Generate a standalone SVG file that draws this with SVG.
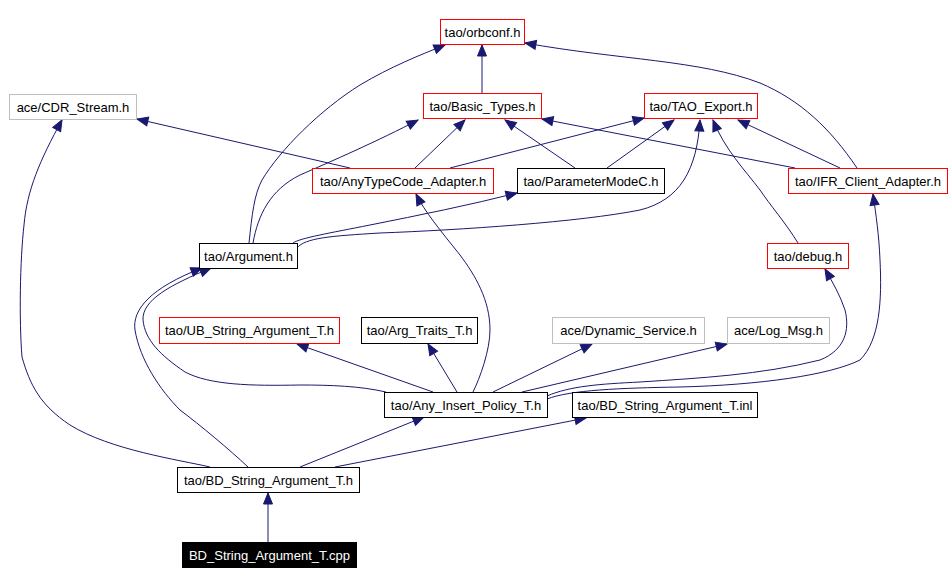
<svg xmlns="http://www.w3.org/2000/svg" width="952" height="584" viewBox="0 0 952 584">
<style>
.n rect{fill:#fff;stroke:#000;stroke-width:1}
.n.r rect{stroke:#ff0000}
.n.g rect{stroke:#bfbfbf}
.n.k rect{fill:#000}
.n text{font-family:"Liberation Sans",Arial,sans-serif;font-size:13px;text-anchor:middle;fill:#000}
.n.k text{fill:#fff}
#edges path{fill:none;stroke:#191970;stroke-width:1;marker-end:url(#ah)}
</style>
<defs>
<marker id="ah" markerUnits="userSpaceOnUse" markerWidth="13" markerHeight="11" refX="11" refY="4.5" orient="auto" overflow="visible"><path d="M0,0 L11,4.5 L0,9 z" fill="#191970" stroke="#191970" stroke-width="1"/></marker>
</defs>
<rect width="952" height="584" fill="#fff"/>
<g id="edges">
<path d="M482,93 L482,45"/>
<path d="M249,243 C252,215 254,195 262,180 C280,150 320,110 360,85 C390,67 420,55 445,45"/>
<path d="M253,243 C258,215 270,190 300,175 C330,162 380,140 418,120"/>
<path d="M293,243 C300,238 330,233 370,225 C420,215 470,205 517,193"/>
<path d="M297,248 C305,238 330,236 380,233 C460,230 580,222 640,210 C680,200 697,170 700,120"/>
<path d="M350,168 L137,119"/>
<path d="M415,168 L465,120"/>
<path d="M450,168 L644,118"/>
<path d="M575,168 L505,120"/>
<path d="M607,168 L674,120"/>
<path d="M795,168 L542,119"/>
<path d="M840,168 L738,120"/>
<path d="M857,168 C830,128 800,100 760,83 C700,60 620,60 525,43"/>
<path d="M798,243 C785,222 770,205 760,190 C745,170 725,150 713,120"/>
<path d="M433,392 L297,344"/>
<path d="M457,392 L428,344"/>
<path d="M473,392 C480,378 490,350 490,330 C490,300 475,275 460,255 C440,230 425,212 416,194"/>
<path d="M493,392 L592,344"/>
<path d="M522,392 L727,344"/>
<path d="M547,396 C570,386 600,384 640,382 C700,378 760,375 820,360 C845,350 850,330 845,310 C840,295 833,283 825,269"/>
<path d="M547,399 C570,390 620,388 680,387 C760,385 830,375 860,360 C880,340 882,300 880,260 C879,235 876,215 873,194"/>
<path d="M386,392 C360,386 330,385 300,385 C250,386 210,385 185,372 C160,355 145,340 143,320 C142,300 170,285 211,268"/>
<path d="M248,467 C230,450 200,425 180,410 C160,390 140,360 135,330 C132,310 150,288 202,268"/>
<path d="M210,467 C180,460 110,450 70,425 C40,405 30,385 22,357 C19,320 20,260 24,225 C27,190 40,160 62,120"/>
<path d="M300,467 L424,417"/>
<path d="M335,467 L586,418"/>
<path d="M268,542 L268,493"/>
</g>
<g id="orbconf" class="n r"><rect x="440.5" y="19.5" width="84" height="25"/><text x="482.5" y="37">tao/orbconf.h</text></g>
<g id="cdr" class="n g"><rect x="9.5" y="94.5" width="127" height="25"/><text x="73" y="112">ace/CDR_Stream.h</text></g>
<g id="basic" class="n r"><rect x="423.5" y="93.5" width="118" height="25"/><text x="482.5" y="111">tao/Basic_Types.h</text></g>
<g id="taoexport" class="n r"><rect x="644.5" y="93.5" width="113" height="25"/><text x="701" y="111">tao/TAO_Export.h</text></g>
<g id="anytc" class="n r"><rect x="312.5" y="168.5" width="181" height="25"/><text x="403" y="186">tao/AnyTypeCode_Adapter.h</text></g>
<g id="pmc" class="n"><rect x="517.5" y="168.5" width="147" height="25"/><text x="591" y="186">tao/ParameterModeC.h</text></g>
<g id="ifr" class="n r"><rect x="788.5" y="168.5" width="159" height="25"/><text x="868" y="186">tao/IFR_Client_Adapter.h</text></g>
<g id="argument" class="n"><rect x="199.5" y="243.5" width="98" height="25"/><text x="248.5" y="261">tao/Argument.h</text></g>
<g id="debug" class="n r"><rect x="767.5" y="243.5" width="81" height="25"/><text x="808" y="261">tao/debug.h</text></g>
<g id="ubstring" class="n r"><rect x="159.5" y="317.5" width="180" height="26"/><text x="249.5" y="335">tao/UB_String_Argument_T.h</text></g>
<g id="argtraits" class="n"><rect x="361.5" y="317.5" width="116" height="26"/><text x="419.5" y="335">tao/Arg_Traits_T.h</text></g>
<g id="dynsvc" class="n g"><rect x="552.5" y="317.5" width="152" height="26"/><text x="628.5" y="335">ace/Dynamic_Service.h</text></g>
<g id="logmsg" class="n g"><rect x="727.5" y="317.5" width="102" height="26"/><text x="778.5" y="335">ace/Log_Msg.h</text></g>
<g id="anyinsert" class="n"><rect x="384.5" y="392.5" width="163" height="25"/><text x="466" y="410">tao/Any_Insert_Policy_T.h</text></g>
<g id="bdinl" class="n"><rect x="572.5" y="392.5" width="185" height="25"/><text x="665" y="410">tao/BD_String_Argument_T.inl</text></g>
<g id="bdh" class="n"><rect x="177.5" y="467.5" width="182" height="25"/><text x="268.5" y="485">tao/BD_String_Argument_T.h</text></g>
<g id="bdcpp" class="n k"><rect x="182.5" y="542.5" width="174" height="25"/><text x="269.5" y="560">BD_String_Argument_T.cpp</text></g>
</svg>
